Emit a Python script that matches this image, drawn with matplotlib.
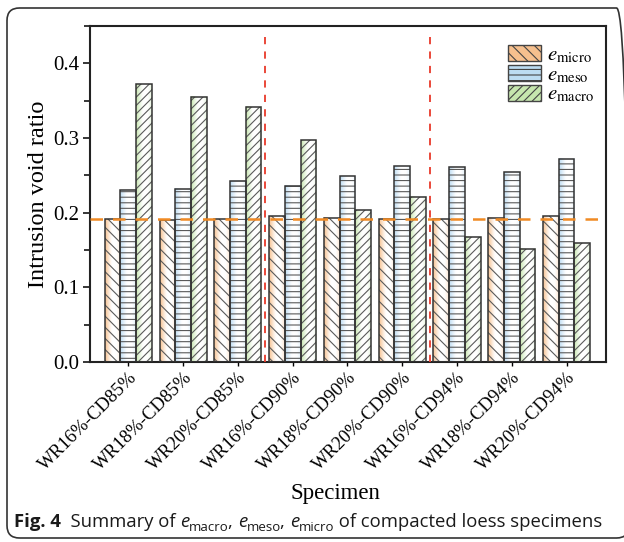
import numpy as np
import matplotlib
matplotlib.use("Agg")
import matplotlib.pyplot as plt
from matplotlib.patches import FancyBboxPatch
from matplotlib.colors import to_rgb
from matplotlib.ticker import MultipleLocator, FuncFormatter

plt.rcParams["mathtext.fontset"] = "stix"
plt.rcParams["hatch.linewidth"] = 0.8

specimens = ["WR16%-CD85%", "WR18%-CD85%", "WR20%-CD85%",
             "WR16%-CD90%", "WR18%-CD90%", "WR20%-CD90%",
             "WR16%-CD94%", "WR18%-CD94%", "WR20%-CD94%"]
e_micro = [0.191, 0.190, 0.191, 0.195, 0.193, 0.191, 0.191, 0.193, 0.195]
e_meso = [0.230, 0.232, 0.242, 0.236, 0.249, 0.262, 0.261, 0.254, 0.272]
e_macro = [0.372, 0.355, 0.342, 0.297, 0.203, 0.221, 0.168, 0.152, 0.159]
reference_level = 0.191
group_breaks = [2.5, 5.5]

series = [
    (e_micro, r"$e_{\mathrm{micro}}$", "#f6c08e", "\\\\\\"),
    (e_meso, r"$e_{\mathrm{meso}}$", "#bcdcf2", "---"),
    (e_macro, r"$e_{\mathrm{macro}}$", "#c6e6ae", "////"),
]

fig = plt.figure(figsize=(6.24, 5.42), dpi=100)
W, H = 624, 542

# rounded frame around figure and caption
frame = FancyBboxPatch((7 / W, 4 / H), 622 / W, 530 / H,
                       boxstyle="round,pad=0,rounding_size=0.02",
                       transform=fig.transFigure, facecolor="none",
                       edgecolor="#333333", linewidth=1.2, mutation_aspect=W / H)
fig.patches.append(frame)

ax = fig.add_axes([90 / W, 1 - 362 / H, 516 / W, 336 / H])

x = np.arange(len(specimens))
width = 0.287
offsets = [-width, 0, width]


def gradient_fill(ax, rect, color):
    c = np.array(to_rgb(color))
    t = np.linspace(0, 1, 64)
    w = np.clip(1 - t / 0.45, 0, 1) ** 1.2 + 0.45 * np.clip((t - 0.7) / 0.3, 0, 1) ** 1.5
    w = np.clip(w, 0, 1)
    img = (1 - w[:, None]) * np.ones(3) + w[:, None] * c
    x0, y0 = rect.get_x(), rect.get_y()
    ax.imshow(img[None, :, :], extent=(x0, x0 + rect.get_width(), y0, y0 + rect.get_height()),
              aspect="auto", zorder=1, interpolation="bilinear")


handles = []
for (vals, label, color, hatch), off in zip(series, offsets):
    bars = ax.bar(x + off, vals, width, facecolor="none", edgecolor="#5a5a5a",
                  hatch=hatch, linewidth=0, zorder=2)
    for r in bars:
        gradient_fill(ax, r, color)
    ax.bar(x + off, vals, width, facecolor="none", edgecolor="#333333",
           linewidth=1.1, zorder=3)
    h = plt.Rectangle((0, 0), 1, 1, facecolor=color, edgecolor="#444444",
                      hatch=hatch, linewidth=1.0)
    handles.append((h, label))

ax.axhline(reference_level, color="#f08a24", linestyle=(0, (5, 4)), linewidth=1.8, zorder=4)
for b in group_breaks:
    ax.axvline(b, ymax=0.98, color="#e8392a", linestyle=(0, (4, 4)), linewidth=1.3, zorder=4)

ax.set_xlim(-0.70, 8.72)
ax.set_ylim(0, 0.45)
ax.yaxis.set_major_locator(MultipleLocator(0.1))
ax.yaxis.set_minor_locator(MultipleLocator(0.05))
ax.yaxis.set_major_formatter(FuncFormatter(lambda v, p: f"{v:.1f}"))

ax.set_xticks(x)
ax.set_xticklabels(specimens, rotation=45, ha="right", va="top", rotation_mode="anchor",
                   family="Liberation Serif", fontsize=13.5)
for lab in ax.get_yticklabels():
    lab.set_family("Liberation Serif")
    lab.set_fontsize(15)
ax.tick_params(axis="y", which="major", direction="out", length=5, width=1.1, pad=3)
ax.tick_params(axis="y", which="minor", direction="out", length=4, width=1.1)
ax.tick_params(axis="x", which="major", direction="out", length=3, width=1.0, pad=2)
for s in ax.spines.values():
    s.set_linewidth(1.5)
    s.set_color("#222222")

ax.set_ylabel("Intrusion void ratio", family="Liberation Serif", fontsize=17.5)
ax.yaxis.set_label_coords(-0.08, 0.5)
ax.set_xlabel("Specimen", family="Liberation Serif", fontsize=16.5)
ax.xaxis.set_label_coords(0.475, -0.36)

leg = ax.legend([h for h, _ in handles], [l for _, l in handles], loc="upper left",
                bbox_to_anchor=(0.81, 0.945), frameon=False, fontsize=15,
                handlelength=1.6, handleheight=0.8, labelspacing=-0.05,
                handletextpad=0.25, borderpad=0.0, borderaxespad=0.0)

# caption line built piece by piece
fig.canvas.draw()
renderer = fig.canvas.get_renderer()
cap_font = "Open Sans"
fs = 13.3
sub = fs * 0.72
pieces = [
    ("Fig. 4", "bold", "normal", fs, 0, 0),
    ("  Summary of ", "normal", "normal", fs, 0, 0),
    ("e", "normal", "italic", fs, 0, 0), ("macro", "normal", "normal", sub, -4, -1),
    (", ", "normal", "normal", fs, 0, 0),
    ("e", "normal", "italic", fs, 0, 0), ("meso", "normal", "normal", sub, -4, -1),
    (", ", "normal", "normal", fs, 0, 0),
    ("e", "normal", "italic", fs, 0, 0), ("micro", "normal", "normal", sub, -4, 0),
    (" of compacted loess specimens", "normal", "normal", fs, 0, 0),
]
xpos = 14
baseline = H - 527
for txt, weight, style, size, dy, adj in pieces:
    t = fig.text(xpos / W, (baseline + dy) / H, txt, family=cap_font, weight=weight,
                 style=style, fontsize=size, va="baseline", ha="left", color="#1a1a1a")
    bb = t.get_window_extent(renderer)
    xpos += bb.width + adj

fig.savefig("out.png", dpi=100)
